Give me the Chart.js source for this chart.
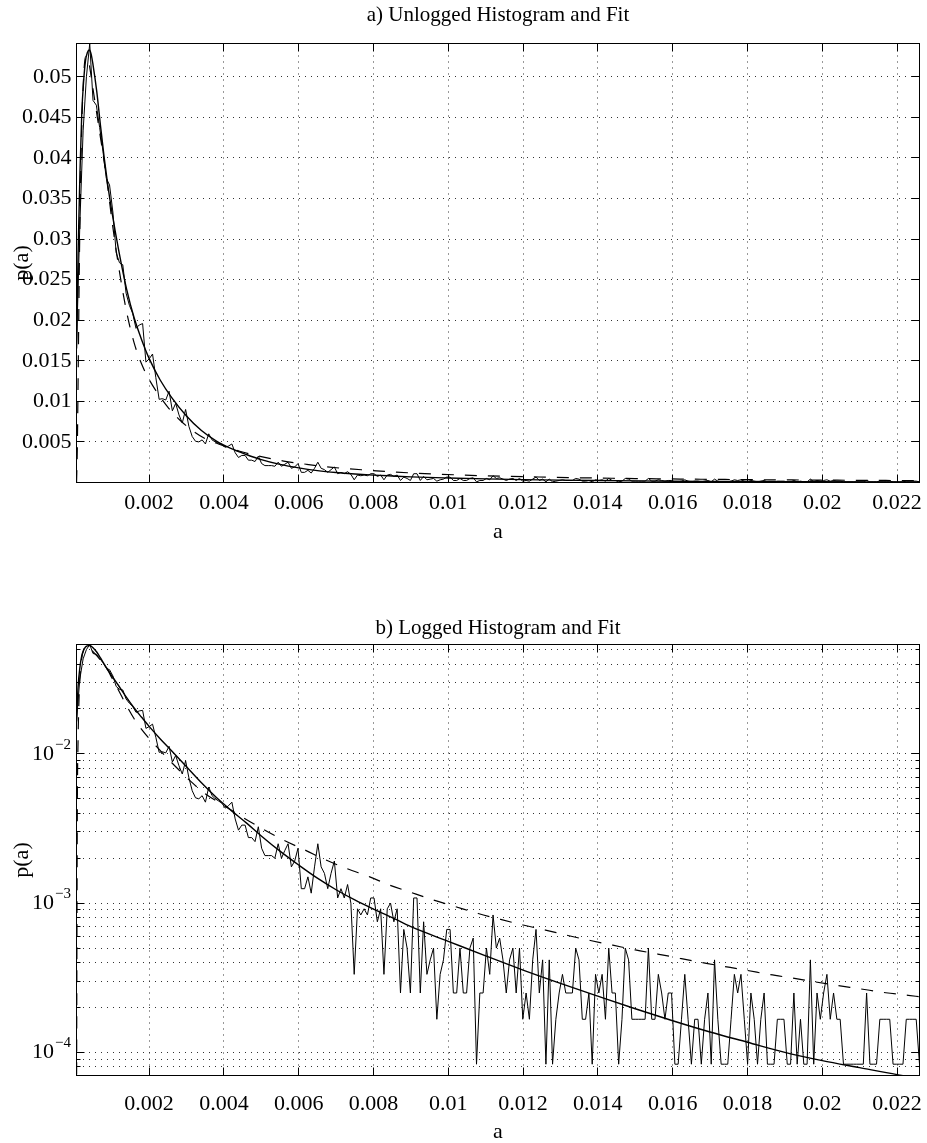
<!DOCTYPE html>
<html>
<head>
<meta charset="utf-8">
<script src="https://cdn.jsdelivr.net/npm/chart.js@4.4.0/dist/chart.umd.min.js"></script>
<style>
  html, body { margin: 0; padding: 0; background: #fff; }
  #wrap { position: relative; width: 927px; height: 1143px; }
  canvas { position: absolute; left: 0; }
  #topChart { top: 0; }
  #bottomChart { top: 560px; }
</style>
</head>
<body>
<div id="wrap">
  <canvas id="topChart" width="927" height="560"></canvas>
  <canvas id="bottomChart" width="927" height="583"></canvas>
</div>
<script>
// histogram of a: 256 bins, counts divided by the number of samples
var binStart = 0.0000588;
var binWidth = 0.0000884;
var sampleCount = 12000;
var histCounts = [
  200, 380, 520, 600, 649, 565, 558, 525, 490, 450,
  440, 400, 340, 325, 322, 280, 262, 250, 228, 233,
  235, 178, 183, 190, 155, 123, 124, 122, 135, 106,
  117, 100, 88, 108, 83, 68, 61, 60, 63, 57,
  72, 63, 60, 58, 56, 52, 54, 57, 44, 37,
  40, 40, 33, 33, 31, 39, 28, 25, 25, 25,
  24, 30, 24, 27, 30, 21, 23, 28, 15, 15,
  18, 14, 21, 30, 21, 19, 15, 19, 23, 13,
  15, 13, 16, 12, 4, 11, 10, 11, 10, 13,
  13, 9, 11, 4, 11, 12, 9, 11, 3, 8,
  6, 3, 13, 13, 3, 9, 4, 5, 6, 2,
  4, 5, 8, 8, 3, 3, 6, 3, 3, 6,
  7, 1, 3, 3, 6, 4, 10, 6, 7, 5,
  3, 5, 6, 3, 6, 2, 3, 2, 5, 8,
  3, 5, 1, 5, 1, 2, 3, 4, 3, 3,
  3, 6, 5, 2, 2, 3, 1, 4, 3, 4,
  2, 6, 3, 3, 1, 2, 6, 5, 2, 2,
  2, 2, 2, 6, 2, 2, 4, 3, 2, 3,
  3, 1, 1, 2, 4, 2, 1, 2, 2, 1,
  2, 3, 1, 5, 2, 1, 1, 1, 2, 4,
  3, 4, 2, 1, 3, 2, 1, 2, 3, 1,
  1, 1, 2, 2, 2, 1, 1, 3, 1, 2,
  1, 1, 5, 1, 3, 2, 3, 4, 2, 3,
  2, 2, 1, 1, 1, 1, 1, 1, 1, 3,
  1, 1, 1, 2, 2, 2, 2, 1, 1, 1,
  1, 2, 2, 2, 2, 1
];

// solid fit
var fitA = [0.00006, 0.0001, 0.00015, 0.0002, 0.00025, 0.0003, 0.00035, 0.0004, 0.00045, 0.0005,
  0.0006, 0.0007, 0.0008, 0.0009, 0.001, 0.0012, 0.0014, 0.0016, 0.0018, 0.002,
  0.0023, 0.0026, 0.003, 0.0034, 0.0038, 0.0042, 0.0046, 0.005, 0.0055, 0.006,
  0.0065, 0.007, 0.0075, 0.008, 0.0085, 0.009, 0.01, 0.011, 0.012, 0.013,
  0.014, 0.015, 0.016, 0.017, 0.018, 0.019, 0.02, 0.021, 0.022, 0.0226];
var fitP = [0.0165, 0.028, 0.038, 0.0455, 0.0495, 0.052, 0.053, 0.0533, 0.0528, 0.0515,
  0.0482, 0.044, 0.040, 0.0365, 0.0335, 0.0283, 0.0238, 0.0203, 0.0176, 0.0153,
  0.0126, 0.0105, 0.0082, 0.0064, 0.0051, 0.00417, 0.00345, 0.00282, 0.00223, 0.0018,
  0.00147, 0.00123, 0.00105, 0.000912, 0.0008, 0.000695, 0.000555, 0.000443, 0.000356, 0.00029,
  0.000238, 0.000196, 0.000163, 0.000137, 0.000117, 0.0001, 0.000088, 0.000079, 0.000071, 0.0000675];

// dashed fit
var dashA = [0.00006, 0.00008, 0.0001, 0.00013, 0.00016, 0.0002, 0.00025, 0.0003, 0.00035, 0.0004,
  0.0005, 0.0006, 0.0007, 0.0008, 0.0009, 0.001, 0.0012, 0.0014, 0.0016, 0.0018,
  0.002, 0.0022, 0.0025, 0.0028, 0.0031, 0.0035, 0.004, 0.0045, 0.005, 0.0056,
  0.0062, 0.0067, 0.0073, 0.0079, 0.0084, 0.009, 0.0096, 0.0102, 0.0108, 0.0114,
  0.012, 0.0126, 0.0132, 0.0138, 0.0144, 0.015, 0.0156, 0.0162, 0.0168, 0.0174,
  0.018, 0.0186, 0.0192, 0.0198, 0.0204, 0.021, 0.0217, 0.0223, 0.0226];
var dashP = [0.00005, 0.004, 0.012, 0.025, 0.035, 0.044, 0.050, 0.0525, 0.0525, 0.0515,
  0.0485, 0.0455, 0.0425, 0.0395, 0.0362, 0.0325, 0.0262, 0.0210, 0.0172, 0.0146,
  0.0127, 0.0112, 0.0093, 0.0078, 0.0066, 0.0054, 0.00452, 0.00376, 0.00318, 0.00264,
  0.00225, 0.00196, 0.0017, 0.0015, 0.00133, 0.00118, 0.00105, 0.000946, 0.000852, 0.000778,
  0.000714, 0.00066, 0.000607, 0.000562, 0.000523, 0.000486, 0.000456, 0.000427, 0.000399, 0.000376,
  0.000354, 0.000332, 0.000315, 0.000297, 0.000281, 0.000267, 0.000251, 0.000241, 0.000236];

var xTicks = [0.002, 0.004, 0.006, 0.008, 0.01, 0.012, 0.014, 0.016, 0.018, 0.02, 0.022];
var linTicks = [0.005, 0.01, 0.015, 0.02, 0.025, 0.03, 0.035, 0.04, 0.045, 0.05];
var logTicks = [1e-4, 1e-3, 1e-2];

var serif = "'Liberation Serif', 'Times New Roman', serif";
var gridColor = '#333';

function histPoints() {
  return histCounts.map(function (c, i) {
    return { x: binStart + i * binWidth, y: c / sampleCount };
  });
}

function pairs(a, p) {
  return a.map(function (v, i) { return { x: v, y: p[i] }; });
}

function datasets() {
  return [
    { data: histPoints(), borderColor: '#000', borderWidth: 1, pointRadius: 0, tension: 0 },
    { data: pairs(fitA, fitP), borderColor: '#000', borderWidth: 1.4, pointRadius: 0, cubicInterpolationMode: 'monotone' },
    { data: pairs(dashA, dashP), borderColor: '#000', borderWidth: 1.2, pointRadius: 0, borderDash: [12, 11], cubicInterpolationMode: 'monotone' }
  ];
}

// every 1..9 x 10^n inside the axis range, for the log grid
function logGrid(min, max) {
  var out = [];
  for (var e = -5; e <= -1; e++) {
    for (var k = 1; k <= 9; k++) {
      var v = k * Math.pow(10, e);
      if (v >= min && v <= max) out.push(v);
    }
  }
  return out;
}

function fmt(v) {
  return String(+v.toFixed(3));
}

function crisp(px) {
  return Math.round(px - 0.5) + 0.5;
}

// matlab style box, inward ticks, titles
var frame = {
  id: 'frame',
  afterDraw: function (chart, args, opts) {
    var ctx = chart.ctx;
    var area = chart.chartArea;
    var xs = chart.scales.x;
    var ys = chart.scales.y;
    var midX = (area.left + area.right) / 2;

    ctx.save();
    ctx.strokeStyle = '#000';
    ctx.lineWidth = 1;
    ctx.setLineDash([]);
    ctx.strokeRect(area.left, area.top, area.right - area.left, area.bottom - area.top);

    ctx.beginPath();
    xTicks.forEach(function (v) {
      var px = crisp(xs.getPixelForValue(v));
      ctx.moveTo(px, area.bottom); ctx.lineTo(px, area.bottom - 8);
      ctx.moveTo(px, area.top); ctx.lineTo(px, area.top + 8);
    });
    ys.ticks.forEach(function (t) {
      var len = 8;
      if (opts.powers && opts.powers.indexOf(t.value) < 0) len = 4;
      var py = crisp(ys.getPixelForValue(t.value));
      ctx.moveTo(area.left, py); ctx.lineTo(area.left + len, py);
      ctx.moveTo(area.right, py); ctx.lineTo(area.right - len, py);
    });
    ctx.stroke();

    ctx.fillStyle = '#000';
    if (opts.powers) {
      ctx.textAlign = 'right';
      ctx.textBaseline = 'middle';
      opts.powers.forEach(function (v) {
        var py = ys.getPixelForValue(v);
        var exp = '\u2212' + Math.round(-Math.log10(v));
        ctx.font = '15px ' + serif;
        var w = ctx.measureText(exp).width;
        ctx.fillText(exp, 71, py - 9);
        ctx.font = '22px ' + serif;
        ctx.fillText('10', 71 - w - 1, py);
      });
    }

    ctx.font = '21px ' + serif;
    ctx.textAlign = 'center';
    ctx.textBaseline = 'alphabetic';
    ctx.fillText(opts.title, midX, opts.titleY);
    ctx.font = '22px ' + serif;
    ctx.fillText('a', midX, opts.xTitleY);

    ctx.translate(22, (area.top + area.bottom) / 2);
    ctx.rotate(-Math.PI / 2);
    ctx.textBaseline = 'middle';
    ctx.fillText('p(a)', 0, 0);
    ctx.restore();
  }
};

function xScale(height, pad) {
  return {
    type: 'linear',
    min: binStart,
    max: binStart + (histCounts.length - 1) * binWidth,
    afterBuildTicks: function (s) { s.ticks = xTicks.map(function (v) { return { value: v }; }); },
    afterFit: function (s) { s.height = height; s.paddingLeft = 0; s.paddingRight = 0; },
    grid: { color: gridColor, lineWidth: 1, drawTicks: false },
    border: { display: false, dash: [1, 5] },
    ticks: { autoSkip: false, maxRotation: 0, minRotation: 0, padding: pad, color: '#000',
      font: { family: serif, size: 22 }, callback: fmt }
  };
}

function makeChart(id, padTop, scales, frameOpts) {
  return new Chart(document.getElementById(id), {
    type: 'line',
    data: { datasets: datasets() },
    options: {
      responsive: false,
      animation: false,
      devicePixelRatio: 1,
      layout: { padding: { top: padTop, right: 7.5, left: 0, bottom: 0 } },
      plugins: { legend: { display: false }, tooltip: { enabled: false }, frame: frameOpts },
      scales: scales
    },
    plugins: [frame]
  });
}

makeChart('topChart', 43.5, {
  x: xScale(77.5, 8),
  y: {
    type: 'linear',
    min: 0,
    max: 0.0541,
    afterBuildTicks: function (s) { s.ticks = linTicks.map(function (v) { return { value: v }; }); },
    afterFit: function (s) { s.width = 76.5; s.paddingTop = 0; s.paddingBottom = 0; },
    grid: { color: gridColor, lineWidth: 1, drawTicks: false },
    border: { display: false, dash: [1, 5] },
    ticks: { padding: 5, color: '#000', font: { family: serif, size: 22 }, callback: fmt }
  }
}, { title: 'a) Unlogged Histogram and Fit', titleY: 21, xTitleY: 538 });

makeChart('bottomChart', 84.5, {
  x: xScale(67.5, 16),
  y: {
    type: 'logarithmic',
    min: 0.0000724,
    max: 0.0541,
    afterBuildTicks: function (s) { s.ticks = logGrid(s.min, s.max).map(function (v) { return { value: v }; }); },
    afterFit: function (s) { s.width = 76.5; s.paddingTop = 0; s.paddingBottom = 0; },
    grid: { color: gridColor, lineWidth: 1, drawTicks: false },
    border: { display: false, dash: [1, 5] },
    ticks: { display: false }
  }
}, { title: 'b) Logged Histogram and Fit', titleY: 74, xTitleY: 578, powers: logTicks });
</script>
</body>
</html>
